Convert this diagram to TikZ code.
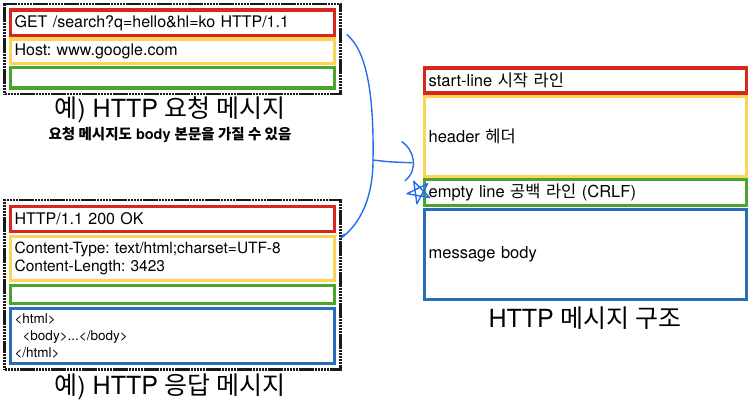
\documentclass[tikz,border=0pt]{standalone}
\usepackage{fontspec}
\setmainfont{TeX Gyre Heros}
\newfontfamily\kr{Noto Sans CJK KR}
\newcommand{\ko}[1]{{\kr #1}}
\frenchspacing
\usetikzlibrary{fit,calc}

\definecolor{lnred}{RGB}{215,40,30}
\definecolor{lnyellow}{RGB}{250,212,85}
\definecolor{lngreen}{RGB}{75,165,45}
\definecolor{lnblue}{RGB}{40,110,185}
\definecolor{penblue}{RGB}{35,110,240}

\tikzset{
  row/.style={draw=#1, line width=3.2pt, anchor=north west, inner xsep=4pt,
    inner ysep=0pt, align=left, font=\fontsize{16}{19}\selectfont},
  leftrow/.style={row=#1, text width=316pt},
  rightrow/.style={row=#1, text width=314pt, font=\fontsize{16.5}{19}\selectfont},
  frame/.style={draw=black!90, line width=2.6pt, dash pattern=on 2.5pt off 0.6pt, inner sep=4.5pt},
  title/.style={font=\fontsize{25}{30}\selectfont},
  note/.style={font=\fontsize{14.5}{17}\selectfont\bfseries},
  pen/.style={draw=penblue, line width=1.4pt, line cap=round, line join=round}
}

\begin{document}
\begin{tikzpicture}[x=1pt,y=-1pt]
  \useasboundingbox (0,0) rectangle (750,404);

  % request message, top left
  \node[leftrow=lnred, minimum height=25.5pt] (reqstart) at (9,8.5) {GET /search?q=hello\&hl=ko HTTP/1.1};
  \node[leftrow=lnyellow, minimum height=24.5pt] (reqhead) at (9,37.5) {Host: www.google.com};
  \node[leftrow=lngreen, minimum height=20.5pt] (reqempty) at (9,66) {};
  \node[frame, fit=(reqstart)(reqempty)] (reqframe) {};
  \node[title] (reqtitle) at (170,110) {\ko{예}) HTTP \ko{요청 메시지}};
  \node[note] (reqnote) at (170,135) {\ko{요청 메시지도} body \ko{본문을 가질 수 있음}};

  % response message, bottom left
  \node[leftrow=lnred, minimum height=25pt] (resstart) at (9,204.5) {HTTP/1.1 200 OK};
  \node[leftrow=lnyellow, minimum height=44pt, font=\fontsize{15.5}{18}\selectfont] (reshead) at (9,235)
    {Content-Type: text/html;charset=UTF-8\\Content-Length: 3423};
  \node[leftrow=lngreen, minimum height=18pt] (resempty) at (9,284) {};
  \node[leftrow=lnblue, minimum height=55pt, font=\fontsize{13.5}{17}\selectfont] (resbody) at (9,306.5)
    {<html>\\\hspace*{8pt}<body>...</body>\\</html>};
  \node[frame, fit=(resstart)(resbody)] (resframe) {};
  \node[title] (restitle) at (170,387) {\ko{예}) HTTP \ko{응답 메시지}};

  % general structure, right
  \node[rightrow=lnred, minimum height=25pt] (msgstart) at (423,66.5) {start-line \ko{시작 라인}};
  \node[rightrow=lnyellow, minimum height=80pt] (msghead) at (423,95) {header \ko{헤더}};
  \node[rightrow=lngreen, minimum height=25.5pt] (msgempty) at (423,178) {empty line \ko{공백 라인} (CRLF)};
  \node[rightrow=lnblue, minimum height=90pt] (msgbody) at (423,208) {message body};
  \node[title] (msgtitle) at (585,318) {HTTP \ko{메시지 구조}};

  % hand drawn pen strokes
  \coordinate (penfrom) at ([xshift=5pt,yshift=-32pt]reqframe.north east);
  \coordinate (pento) at ([xshift=5pt,yshift=-3pt]reshead.north east);
  \coordinate (penmid) at (373,160);
  \coordinate (pentip) at ([xshift=-11pt,yshift=15.5pt]msghead.south west);
  \coordinate (starmid) at (419,192);

  \draw[pen] (penfrom) .. controls (368,52) and (374,100) .. (penmid)
    .. controls (373,205) and (355,228) .. (pento) -- ++(3,-4);
  \draw[pen] (penmid) .. controls (390,162) .. (pentip);
  \draw[pen] ($(pentip)+(-10,-21)$) .. controls +(12,8) and +(14,-11) .. ($(pentip)+(-7,18)$);
  \draw[pen] ($(starmid)+(100:12)$) \foreach \k in {1,...,5} { -- ($(starmid)+(100+144*\k:12)$) };
\end{tikzpicture}
\end{document}
